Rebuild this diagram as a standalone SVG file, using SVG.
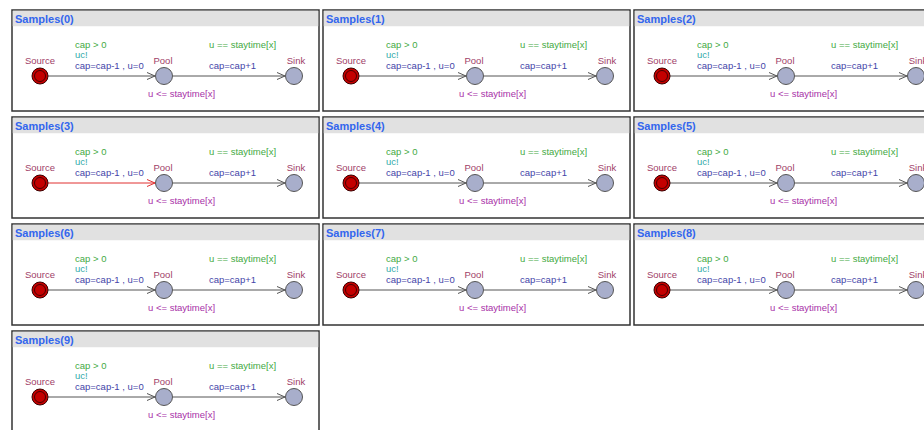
<svg xmlns="http://www.w3.org/2000/svg" width="924" height="430" viewBox="0 0 924 430">
<style>
text{font-family:"Liberation Sans",Arial,sans-serif;font-size:9.5px}
.frame{fill:#fff;stroke:#333;stroke-width:1.5}
.bar{fill:#e1e1e1}
.title{font-weight:bold;font-size:11px;fill:#3366ee}
.src{fill:#c40000;stroke:#3a0000;stroke-width:1}
.srcin{fill:none;stroke:#3a0000;stroke-width:0.9}
.loc{fill:#a8aecb;stroke:#555;stroke-width:1}
.nm{fill:#a04068;text-anchor:middle}
.grd{fill:#44aa44}
.syn{fill:#33aaaa}
.upd{fill:#4444a8}
.inv{fill:#a830a8}
.edge{stroke:#555;stroke-width:1;fill:none;marker-end:url(#ar)}
.edge.hot{stroke:#e03030;marker-end:url(#arr)}
</style>
<defs>
<marker id="ar" markerWidth="10" markerHeight="8" refX="8" refY="4" orient="auto" markerUnits="userSpaceOnUse"><path d="M0,0.5 L8,4 L0,7.5" fill="none" stroke="#555" stroke-width="1"/></marker>
<marker id="arr" markerWidth="10" markerHeight="8" refX="8" refY="4" orient="auto" markerUnits="userSpaceOnUse"><path d="M0,0.5 L8,4 L0,7.5" fill="none" stroke="#e03030" stroke-width="1"/></marker>
</defs>

<g id="panel0" transform="translate(12,10)">
<rect class="frame" x="0" y="0" width="307" height="101"/><rect class="bar" x="0.75" y="0.75" width="305.5" height="15.5"/>
<text class="title" x="3" y="13">Samples(0)</text>
<g class="connectors"><line class="edge" x1="36" y1="66" x2="143" y2="66"/><line class="edge" x1="161" y1="66" x2="273" y2="66"/>
<text class="grd" x="63" y="38">cap &gt; 0</text><text class="syn" x="63" y="48">uc!</text><text class="upd" x="63" y="59">cap=cap-1 , u=0</text>
<text class="grd" x="197" y="38">u == staytime[x]</text><text class="upd" x="197" y="59">cap=cap+1</text></g>
<g id="p0-source"><circle class="src" cx="28" cy="66" r="8"/><circle class="srcin" cx="28" cy="66" r="5.5"/><text class="nm" x="28" y="54">Source</text></g>
<g id="p0-pool"><circle class="loc" cx="152" cy="66" r="8.5"/><text class="nm" x="151" y="54">Pool</text><text class="inv" x="136" y="87">u &lt;= staytime[x]</text></g>
<g id="p0-sink"><circle class="loc" cx="282" cy="66" r="8.5"/><text class="nm" x="284" y="54">Sink</text></g>
</g>

<g id="panel1" transform="translate(323,10)">
<rect class="frame" x="0" y="0" width="307" height="101"/><rect class="bar" x="0.75" y="0.75" width="305.5" height="15.5"/>
<text class="title" x="3" y="13">Samples(1)</text>
<g class="connectors"><line class="edge" x1="36" y1="66" x2="143" y2="66"/><line class="edge" x1="161" y1="66" x2="273" y2="66"/>
<text class="grd" x="63" y="38">cap &gt; 0</text><text class="syn" x="63" y="48">uc!</text><text class="upd" x="63" y="59">cap=cap-1 , u=0</text>
<text class="grd" x="197" y="38">u == staytime[x]</text><text class="upd" x="197" y="59">cap=cap+1</text></g>
<g id="p1-source"><circle class="src" cx="28" cy="66" r="8"/><circle class="srcin" cx="28" cy="66" r="5.5"/><text class="nm" x="28" y="54">Source</text></g>
<g id="p1-pool"><circle class="loc" cx="152" cy="66" r="8.5"/><text class="nm" x="151" y="54">Pool</text><text class="inv" x="136" y="87">u &lt;= staytime[x]</text></g>
<g id="p1-sink"><circle class="loc" cx="282" cy="66" r="8.5"/><text class="nm" x="284" y="54">Sink</text></g>
</g>

<g id="panel2" transform="translate(634,10)">
<rect class="frame" x="0" y="0" width="307" height="101"/><rect class="bar" x="0.75" y="0.75" width="305.5" height="15.5"/>
<text class="title" x="3" y="13">Samples(2)</text>
<g class="connectors"><line class="edge" x1="36" y1="66" x2="143" y2="66"/><line class="edge" x1="161" y1="66" x2="273" y2="66"/>
<text class="grd" x="63" y="38">cap &gt; 0</text><text class="syn" x="63" y="48">uc!</text><text class="upd" x="63" y="59">cap=cap-1 , u=0</text>
<text class="grd" x="197" y="38">u == staytime[x]</text><text class="upd" x="197" y="59">cap=cap+1</text></g>
<g id="p2-source"><circle class="src" cx="28" cy="66" r="8"/><circle class="srcin" cx="28" cy="66" r="5.5"/><text class="nm" x="28" y="54">Source</text></g>
<g id="p2-pool"><circle class="loc" cx="152" cy="66" r="8.5"/><text class="nm" x="151" y="54">Pool</text><text class="inv" x="136" y="87">u &lt;= staytime[x]</text></g>
<g id="p2-sink"><circle class="loc" cx="282" cy="66" r="8.5"/><text class="nm" x="284" y="54">Sink</text></g>
</g>

<g id="panel3" transform="translate(12,117)">
<rect class="frame" x="0" y="0" width="307" height="101"/><rect class="bar" x="0.75" y="0.75" width="305.5" height="15.5"/>
<text class="title" x="3" y="13">Samples(3)</text>
<g class="connectors"><line class="edge hot" x1="36" y1="66" x2="143" y2="66"/><line class="edge" x1="161" y1="66" x2="273" y2="66"/>
<text class="grd" x="63" y="38">cap &gt; 0</text><text class="syn" x="63" y="48">uc!</text><text class="upd" x="63" y="59">cap=cap-1 , u=0</text>
<text class="grd" x="197" y="38">u == staytime[x]</text><text class="upd" x="197" y="59">cap=cap+1</text></g>
<g id="p3-source"><circle class="src" cx="28" cy="66" r="8"/><circle class="srcin" cx="28" cy="66" r="5.5"/><text class="nm" x="28" y="54">Source</text></g>
<g id="p3-pool"><circle class="loc" cx="152" cy="66" r="8.5"/><text class="nm" x="151" y="54">Pool</text><text class="inv" x="136" y="87">u &lt;= staytime[x]</text></g>
<g id="p3-sink"><circle class="loc" cx="282" cy="66" r="8.5"/><text class="nm" x="284" y="54">Sink</text></g>
</g>

<g id="panel4" transform="translate(323,117)">
<rect class="frame" x="0" y="0" width="307" height="101"/><rect class="bar" x="0.75" y="0.75" width="305.5" height="15.5"/>
<text class="title" x="3" y="13">Samples(4)</text>
<g class="connectors"><line class="edge" x1="36" y1="66" x2="143" y2="66"/><line class="edge" x1="161" y1="66" x2="273" y2="66"/>
<text class="grd" x="63" y="38">cap &gt; 0</text><text class="syn" x="63" y="48">uc!</text><text class="upd" x="63" y="59">cap=cap-1 , u=0</text>
<text class="grd" x="197" y="38">u == staytime[x]</text><text class="upd" x="197" y="59">cap=cap+1</text></g>
<g id="p4-source"><circle class="src" cx="28" cy="66" r="8"/><circle class="srcin" cx="28" cy="66" r="5.5"/><text class="nm" x="28" y="54">Source</text></g>
<g id="p4-pool"><circle class="loc" cx="152" cy="66" r="8.5"/><text class="nm" x="151" y="54">Pool</text><text class="inv" x="136" y="87">u &lt;= staytime[x]</text></g>
<g id="p4-sink"><circle class="loc" cx="282" cy="66" r="8.5"/><text class="nm" x="284" y="54">Sink</text></g>
</g>

<g id="panel5" transform="translate(634,117)">
<rect class="frame" x="0" y="0" width="307" height="101"/><rect class="bar" x="0.75" y="0.75" width="305.5" height="15.5"/>
<text class="title" x="3" y="13">Samples(5)</text>
<g class="connectors"><line class="edge" x1="36" y1="66" x2="143" y2="66"/><line class="edge" x1="161" y1="66" x2="273" y2="66"/>
<text class="grd" x="63" y="38">cap &gt; 0</text><text class="syn" x="63" y="48">uc!</text><text class="upd" x="63" y="59">cap=cap-1 , u=0</text>
<text class="grd" x="197" y="38">u == staytime[x]</text><text class="upd" x="197" y="59">cap=cap+1</text></g>
<g id="p5-source"><circle class="src" cx="28" cy="66" r="8"/><circle class="srcin" cx="28" cy="66" r="5.5"/><text class="nm" x="28" y="54">Source</text></g>
<g id="p5-pool"><circle class="loc" cx="152" cy="66" r="8.5"/><text class="nm" x="151" y="54">Pool</text><text class="inv" x="136" y="87">u &lt;= staytime[x]</text></g>
<g id="p5-sink"><circle class="loc" cx="282" cy="66" r="8.5"/><text class="nm" x="284" y="54">Sink</text></g>
</g>

<g id="panel6" transform="translate(12,224)">
<rect class="frame" x="0" y="0" width="307" height="101"/><rect class="bar" x="0.75" y="0.75" width="305.5" height="15.5"/>
<text class="title" x="3" y="13">Samples(6)</text>
<g class="connectors"><line class="edge" x1="36" y1="66" x2="143" y2="66"/><line class="edge" x1="161" y1="66" x2="273" y2="66"/>
<text class="grd" x="63" y="38">cap &gt; 0</text><text class="syn" x="63" y="48">uc!</text><text class="upd" x="63" y="59">cap=cap-1 , u=0</text>
<text class="grd" x="197" y="38">u == staytime[x]</text><text class="upd" x="197" y="59">cap=cap+1</text></g>
<g id="p6-source"><circle class="src" cx="28" cy="66" r="8"/><circle class="srcin" cx="28" cy="66" r="5.5"/><text class="nm" x="28" y="54">Source</text></g>
<g id="p6-pool"><circle class="loc" cx="152" cy="66" r="8.5"/><text class="nm" x="151" y="54">Pool</text><text class="inv" x="136" y="87">u &lt;= staytime[x]</text></g>
<g id="p6-sink"><circle class="loc" cx="282" cy="66" r="8.5"/><text class="nm" x="284" y="54">Sink</text></g>
</g>

<g id="panel7" transform="translate(323,224)">
<rect class="frame" x="0" y="0" width="307" height="101"/><rect class="bar" x="0.75" y="0.75" width="305.5" height="15.5"/>
<text class="title" x="3" y="13">Samples(7)</text>
<g class="connectors"><line class="edge" x1="36" y1="66" x2="143" y2="66"/><line class="edge" x1="161" y1="66" x2="273" y2="66"/>
<text class="grd" x="63" y="38">cap &gt; 0</text><text class="syn" x="63" y="48">uc!</text><text class="upd" x="63" y="59">cap=cap-1 , u=0</text>
<text class="grd" x="197" y="38">u == staytime[x]</text><text class="upd" x="197" y="59">cap=cap+1</text></g>
<g id="p7-source"><circle class="src" cx="28" cy="66" r="8"/><circle class="srcin" cx="28" cy="66" r="5.5"/><text class="nm" x="28" y="54">Source</text></g>
<g id="p7-pool"><circle class="loc" cx="152" cy="66" r="8.5"/><text class="nm" x="151" y="54">Pool</text><text class="inv" x="136" y="87">u &lt;= staytime[x]</text></g>
<g id="p7-sink"><circle class="loc" cx="282" cy="66" r="8.5"/><text class="nm" x="284" y="54">Sink</text></g>
</g>

<g id="panel8" transform="translate(634,224)">
<rect class="frame" x="0" y="0" width="307" height="101"/><rect class="bar" x="0.75" y="0.75" width="305.5" height="15.5"/>
<text class="title" x="3" y="13">Samples(8)</text>
<g class="connectors"><line class="edge" x1="36" y1="66" x2="143" y2="66"/><line class="edge" x1="161" y1="66" x2="273" y2="66"/>
<text class="grd" x="63" y="38">cap &gt; 0</text><text class="syn" x="63" y="48">uc!</text><text class="upd" x="63" y="59">cap=cap-1 , u=0</text>
<text class="grd" x="197" y="38">u == staytime[x]</text><text class="upd" x="197" y="59">cap=cap+1</text></g>
<g id="p8-source"><circle class="src" cx="28" cy="66" r="8"/><circle class="srcin" cx="28" cy="66" r="5.5"/><text class="nm" x="28" y="54">Source</text></g>
<g id="p8-pool"><circle class="loc" cx="152" cy="66" r="8.5"/><text class="nm" x="151" y="54">Pool</text><text class="inv" x="136" y="87">u &lt;= staytime[x]</text></g>
<g id="p8-sink"><circle class="loc" cx="282" cy="66" r="8.5"/><text class="nm" x="284" y="54">Sink</text></g>
</g>

<g id="panel9" transform="translate(12,331)">
<rect class="frame" x="0" y="0" width="307" height="101"/><rect class="bar" x="0.75" y="0.75" width="305.5" height="15.5"/>
<text class="title" x="3" y="13">Samples(9)</text>
<g class="connectors"><line class="edge" x1="36" y1="66" x2="143" y2="66"/><line class="edge" x1="161" y1="66" x2="273" y2="66"/>
<text class="grd" x="63" y="38">cap &gt; 0</text><text class="syn" x="63" y="48">uc!</text><text class="upd" x="63" y="59">cap=cap-1 , u=0</text>
<text class="grd" x="197" y="38">u == staytime[x]</text><text class="upd" x="197" y="59">cap=cap+1</text></g>
<g id="p9-source"><circle class="src" cx="28" cy="66" r="8"/><circle class="srcin" cx="28" cy="66" r="5.5"/><text class="nm" x="28" y="54">Source</text></g>
<g id="p9-pool"><circle class="loc" cx="152" cy="66" r="8.5"/><text class="nm" x="151" y="54">Pool</text><text class="inv" x="136" y="87">u &lt;= staytime[x]</text></g>
<g id="p9-sink"><circle class="loc" cx="282" cy="66" r="8.5"/><text class="nm" x="284" y="54">Sink</text></g>
</g>
</svg>
